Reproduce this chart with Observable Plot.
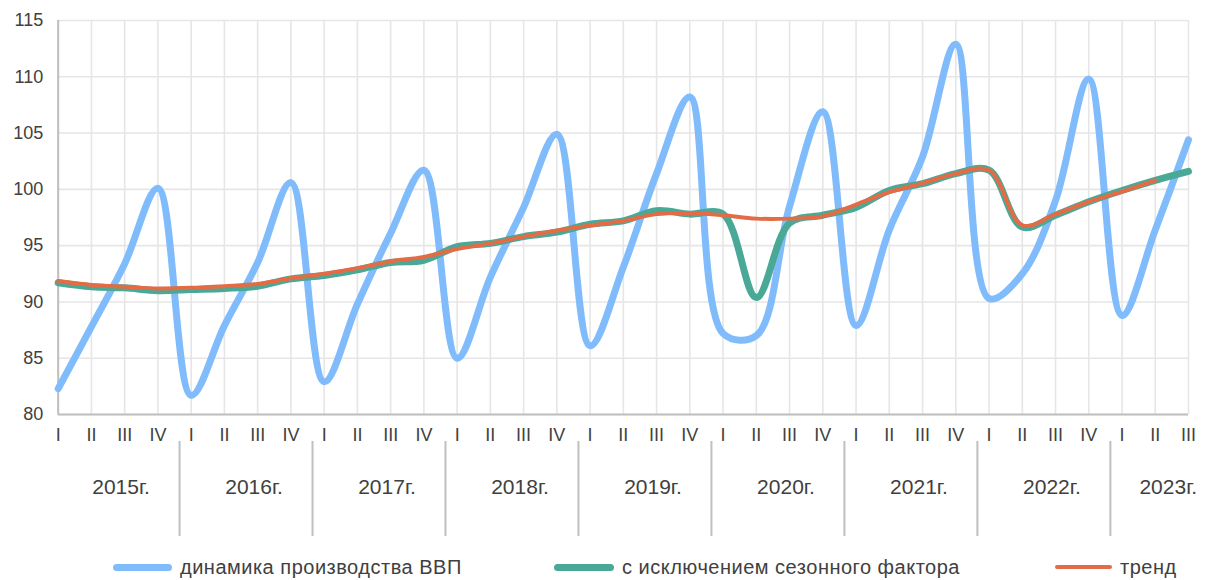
<!DOCTYPE html>
<html>
<head>
<meta charset="utf-8">
<script src="https://cdn.jsdelivr.net/npm/d3@7"></script>
<script src="https://cdn.jsdelivr.net/npm/@observablehq/plot@0.6"></script>
<style>
  html, body { margin: 0; padding: 0; background: #fff; }
  #wrap { position: relative; width: 1212px; height: 580px; overflow: hidden; font-family: "Liberation Sans", Arial, sans-serif; }
  #legend { position: absolute; left: 0; top: 548px; width: 1212px; height: 32px; }
  .item { position: absolute; top: 0; height: 38px; display: flex; align-items: center; font-size: 20px; letter-spacing: 0.5px; color: #404040; white-space: nowrap; }
  .sw { display: inline-block; border-radius: 4px; margin-right: 8px; }
</style>
</head>
<body>
<div id="wrap"><div id="chart"></div><div id="legend"></div></div>
<script>
// ---- data ----
const quarters = ["I", "II", "III", "IV"];
const years = ["2015", "2016", "2017", "2018", "2019", "2020", "2021", "2022", "2023"];
const seriesNames = ["динамика производства ВВП", "с исключением сезонного фактора", "тренд"];
const yTicks = [80, 85, 90, 95, 100, 105, 110, 115];
// 2015 I ... 2023 III (35 quarters)
const gdp = [82.3, 87.8, 93.4, 100.1,
             81.7, 87.9, 93.5, 100.6,
             82.9, 89.8, 96.1, 101.7,
             85.0, 92.2, 98.4, 104.9,
             86.1, 93.1, 101.4, 108.2,
             87.2, 87.0, 98.5, 106.9,
             87.9, 96.4, 102.9, 112.9,
             90.3, 92.5, 99.0, 109.8,
             88.8, 96.4, 104.4];
const seasAdj = [91.7, 91.35, 91.25, 91.0,
                 91.1, 91.2, 91.4, 92.05,
                 92.35, 92.85, 93.5, 93.7,
                 94.9, 95.2, 95.8, 96.2,
                 96.9, 97.2, 98.1, 97.8,
                 97.8, 90.4, 97.0, 97.7,
                 98.4, 99.9, 100.5, 101.4,
                 101.7, 96.65, 97.7, 98.9,
                 99.9, 100.8, 101.6];
const trend = [91.85, 91.5, 91.35, 91.2,
               91.25, 91.4, 91.6, 92.1,
               92.5, 93.0, 93.6, 94.0,
               94.7, 95.2, 95.8, 96.35,
               96.8, 97.2, 97.8, 97.9,
               97.7, 97.4, 97.4, 97.6,
               98.65, 99.75, 100.55, 101.4,
               101.7, 96.8, 97.8, 98.9,
               99.8, 100.8, null];
const colors = ["#80BCFB", "#4AA996", "#E36C47"];

// ---- table ----
const rows = gdp.map((v, i) => ({i, gdp: v, sa: seasAdj[i], trend: trend[i]}));
const n = gdp.length;
const yearCenters = years.map((y, k) => {
  const first = k * 4, last = Math.min(k * 4 + 3, n - 1);
  return {label: y + "г.", x: (first + last) / 2};
});
const separators = d3.range(1, years.length).map(k => k * 4 - 0.35);

const txt = "#404040";
const grid = "#e6e6e6";

const chart = Plot.plot({
  width: 1212,
  height: 548,
  marginLeft: 57.7,
  marginRight: 24,
  marginTop: 20,
  marginBottom: 134,
  style: {fontFamily: '"Liberation Sans", Arial, sans-serif', color: txt, background: "#fff"},
  x: {type: "linear", domain: [0, n - 1]},
  y: {domain: [80, 115]},
  marks: [
    Plot.gridY(yTicks, {stroke: grid, strokeOpacity: 1, strokeWidth: 1.6}),
    Plot.gridX(d3.range(n), {stroke: grid, strokeOpacity: 1, strokeWidth: 1.6}),
    Plot.ruleX([0], {stroke: "#bfbfbf", strokeWidth: 2}),
    Plot.ruleY([80], {stroke: "#bfbfbf", strokeWidth: 2}),
    Plot.axisY(yTicks, {tickSize: 0, tickPadding: 15, fontSize: 18, fill: txt, label: null}),
    Plot.axisX(d3.range(n), {tickSize: 0, tickPadding: 14, fontSize: 18, fill: txt, label: null,
      tickFormat: i => quarters[i % 4]}),
    Plot.ruleX(separators, {x: d => d, insetTop: 299, dy: 122, stroke: "#bfbfbf", strokeWidth: 2}),
    Plot.text(yearCenters, {x: "x", y: () => 80, text: "label", dy: 73, dx: 13, fontSize: 21, fill: txt}),
    Plot.line(rows, {x: "i", y: "gdp", stroke: colors[0], strokeWidth: 7, curve: "catmull-rom", strokeLinecap: "round", strokeLinejoin: "round"}),
    Plot.line(rows, {x: "i", y: "sa", stroke: colors[1], strokeWidth: 7, curve: "catmull-rom", strokeLinecap: "round", strokeLinejoin: "round"}),
    Plot.line(rows, {x: "i", y: "trend", stroke: colors[2], strokeWidth: 4, curve: "catmull-rom", strokeLinecap: "round", strokeLinejoin: "round"})
  ]
});
document.getElementById("chart").appendChild(chart);

// ---- legend ----
const legend = document.getElementById("legend");
const legendLayout = [{left: 113, w: 59, h: 7}, {left: 554, w: 60, h: 7}, {left: 1055, w: 57, h: 4}];
seriesNames.forEach((name, k) => {
  const it = document.createElement("div");
  it.className = "item";
  it.style.left = legendLayout[k].left + "px";
  const sw = document.createElement("span");
  sw.className = "sw";
  sw.style.width = legendLayout[k].w + "px";
  sw.style.height = legendLayout[k].h + "px";
  sw.style.background = colors[k];
  it.appendChild(sw);
  it.appendChild(document.createTextNode(name));
  legend.appendChild(it);
});
</script>
</body>
</html>
